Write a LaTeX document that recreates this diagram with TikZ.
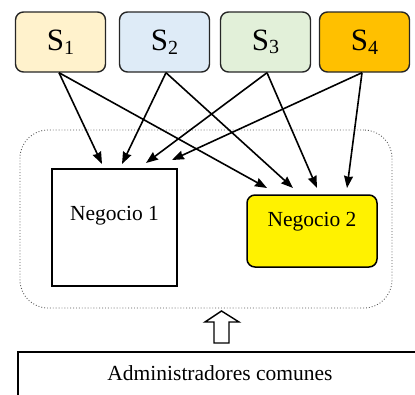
\documentclass[tikz,border=0pt]{standalone}
\usepackage{fontspec}
\setmainfont{Liberation Serif}
\usetikzlibrary{arrows.meta}
\definecolor{c1}{HTML}{FFF2CC}
\definecolor{c2}{HTML}{DEEBF7}
\definecolor{c3}{HTML}{E2F0D9}
\definecolor{c4}{HTML}{FFC000}
\begin{document}
\begin{tikzpicture}[x=1pt,y=-1pt,
  sbox/.style={draw=black!85,line width=1.4pt,rounded corners=8pt,minimum width=90pt,minimum height=60pt,inner sep=0pt,font=\fontsize{31}{33}\selectfont},
  arr/.style={-{Stealth[length=12pt,width=9pt,inset=1pt]},line width=1.6pt},
  lbl/.style={font=\fontsize{21.5}{24}\selectfont},
  sub/.style={}]
\useasboundingbox (0,0) rectangle (415,394);
% suppliers
\node[sbox,fill=c1] (s1) at (60.5,42) {S\raisebox{-3.5pt}{\fontsize{20}{22}\selectfont 1}};
\node[sbox,fill=c2] (s2) at (164.5,42) {S\raisebox{-3.5pt}{\fontsize{20}{22}\selectfont 2}};
\node[sbox,fill=c3] (s3) at (265.5,42) {S\raisebox{-3.5pt}{\fontsize{20}{22}\selectfont 3}};
\node[sbox,fill=c4] (s4) at (364.5,42) {S\raisebox{-3.5pt}{\fontsize{20}{22}\selectfont 4}};
% container
\node[draw=black!65,dotted,line width=0.9pt,rounded corners=28pt,minimum width=372pt,minimum height=178pt] (cont) at (206,219) {};
% businesses
\node[draw,line width=2pt,minimum width=125pt,minimum height=117pt,inner sep=0pt] (n1) at (114.5,227) {};
\node[lbl] at (114.5,216) {Negocio 1};
\node[draw,line width=1.5pt,fill=yellow,rounded corners=8pt,minimum width=130pt,minimum height=72pt,inner sep=0pt] (n2) at (312,231) {};
\node[lbl] at (312,222) {Negocio 2};
% endpoints
\coordinate (a11) at (102,164);
\coordinate (a21) at (122,164);
\coordinate (a31) at (146,163);
\coordinate (a41) at (172,160);
\coordinate (a12) at (267,188);
\coordinate (a22) at (293,188);
\coordinate (a32) at (317,188);
\coordinate (a42) at (347,188);
\draw[arr] ([xshift=-1.5pt]s1.south) -- (a11);
\draw[arr] ([xshift=-1.5pt]s1.south) -- (a12);
\draw[arr] ([xshift=1.5pt]s2.south) -- (a21);
\draw[arr] ([xshift=1.5pt]s2.south) -- (a22);
\draw[arr] ([xshift=1.5pt]s3.south) -- (a31);
\draw[arr] ([xshift=1.5pt]s3.south) -- (a32);
\draw[arr] ([xshift=-2.5pt]s4.south) -- (a41);
\draw[arr] ([xshift=-2.5pt]s4.south) -- (a42);
% hollow arrow
\draw[line width=1.4pt,line join=miter,fill=white] (221.5,311) -- (239,322) -- (229,322) -- (229,343) -- (214,343) -- (214,322) -- (205,322) -- cycle;
% bottom box
\node[draw,line width=2pt,anchor=north west,minimum width=420pt,minimum height=60pt,inner sep=0pt] (adm) at (17,351) {};
\node[lbl] at (220,373) {Administradores comunes};
\end{tikzpicture}
\end{document}
